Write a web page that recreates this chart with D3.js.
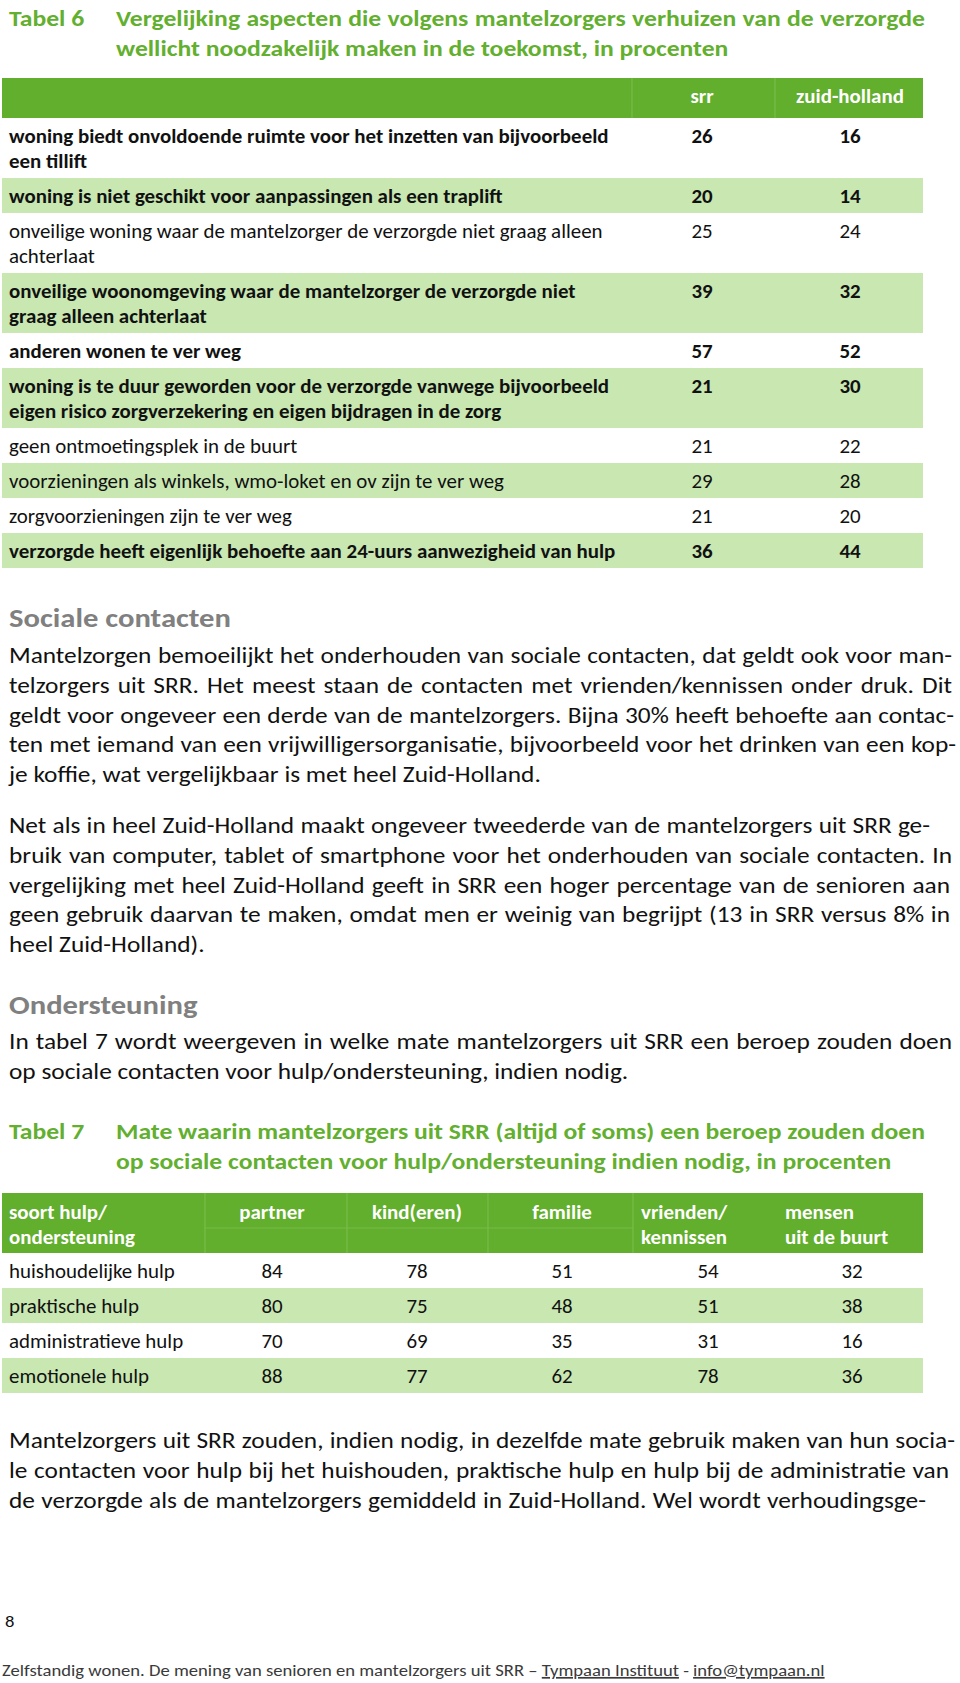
<!DOCTYPE html>
<html><head><meta charset="utf-8">
<script src="https://cdn.jsdelivr.net/npm/d3@7"></script>
<style>body{margin:0;background:#fff}svg{display:block}</style>
</head><body>
<script>
// ---------------- DATA ----------------
const table6Label = "Tabel 6";
const table6Title = ["Vergelijking aspecten die volgens mantelzorgers verhuizen van de verzorgde",
                     "wellicht noodzakelijk maken in de toekomst, in procenten"];
const table6Columns = ["srr", "zuid-holland"];
const aspects = [
  ["woning biedt onvoldoende ruimte voor het inzetten van bijvoorbeeld", "een tillift"],
  ["woning is niet geschikt voor aanpassingen als een traplift"],
  ["onveilige woning waar de mantelzorger de verzorgde niet graag alleen", "achterlaat"],
  ["onveilige woonomgeving waar de mantelzorger de verzorgde niet", "graag alleen achterlaat"],
  ["anderen wonen te ver weg"],
  ["woning is te duur geworden voor de verzorgde vanwege bijvoorbeeld", "eigen risico zorgverzekering en eigen bijdragen in de zorg"],
  ["geen ontmoetingsplek in de buurt"],
  ["voorzieningen als winkels, wmo-loket en ov zijn te ver weg"],
  ["zorgvoorzieningen zijn te ver weg"],
  ["verzorgde heeft eigenlijk behoefte aan 24-uurs aanwezigheid van hulp"]
];
const srrValues         = [26, 20, 25, 39, 57, 21, 21, 29, 21, 36];
const zuidHollandValues = [16, 14, 24, 32, 52, 30, 22, 28, 20, 44];
const aspectSignificant = [true, true, false, true, true, true, false, false, false, true];

const heading1 = "Sociale contacten";
const para1 = [
  "Mantelzorgen bemoeilijkt het onderhouden van sociale contacten, dat geldt ook voor man-",
  "telzorgers uit SRR. Het meest staan de contacten met vrienden/kennissen onder druk. Dit",
  "geldt voor ongeveer een derde van de mantelzorgers. Bijna 30% heeft behoefte aan contac-",
  "ten met iemand van een vrijwilligersorganisatie, bijvoorbeeld voor het drinken van een kop-",
  "je koffie, wat vergelijkbaar is met heel Zuid-Holland."
];
const para2 = [
  "Net als in heel Zuid-Holland maakt ongeveer tweederde van de mantelzorgers uit SRR ge-",
  "bruik van computer, tablet of smartphone voor het onderhouden van sociale contacten. In",
  "vergelijking met heel Zuid-Holland geeft in SRR een hoger percentage van de senioren aan",
  "geen gebruik daarvan te maken, omdat men er weinig van begrijpt (13 in SRR versus 8% in",
  "heel Zuid-Holland)."
];
const heading2 = "Ondersteuning";
const para3 = [
  "In tabel 7 wordt weergeven in welke mate mantelzorgers uit SRR een beroep zouden doen",
  "op sociale contacten voor hulp/ondersteuning, indien nodig."
];

const table7Label = "Tabel 7";
const table7Title = ["Mate waarin mantelzorgers uit SRR (altijd of soms) een beroep zouden doen",
                     "op sociale contacten voor hulp/ondersteuning indien nodig, in procenten"];
const helpHeader = ["soort hulp/", "ondersteuning"];
const sources = ["partner", "kind(eren)", "familie", "vrienden/kennissen", "mensen uit de buurt"];
const sourceLabels = [["partner"], ["kind(eren)"], ["familie"], ["vrienden/", "kennissen"], ["mensen", "uit de buurt"]];
const helpTypes = ["huishoudelijke hulp", "praktische hulp", "administratieve hulp", "emotionele hulp"];
const partnerValues  = [84, 80, 70, 88];
const kinderenValues = [78, 75, 69, 77];
const familieValues  = [51, 48, 35, 62];
const vriendenValues = [54, 51, 31, 78];
const buurtValues    = [32, 38, 16, 36];

const para4 = [
  "Mantelzorgers uit SRR zouden, indien nodig, in dezelfde mate gebruik maken van hun socia-",
  "le contacten voor hulp bij het huishouden, praktische hulp en hulp bij de administratie van",
  "de verzorgde als de mantelzorgers gemiddeld in Zuid-Holland. Wel wordt verhoudingsge-"
];
const pageNumber = "8";
const footerParts = [
  {t: "Zelfstandig wonen. De mening van senioren en mantelzorgers uit SRR \u2013 ", u: false},
  {t: "Tympaan Instituut", u: true},
  {t: " - ", u: false},
  {t: "info@tympaan.nl", u: true}
];

// ---------------- STYLE ----------------
const FONT = "Carlito, Lato, 'Open Sans', sans-serif";
const GREEN = "#62ae2d", TITLE_GREEN = "#63af30", LIGHT = "#c8e7b1", DIV = "#78bc49";
const styles = {
  title:     {size: 21.5, weight: 700, fill: TITLE_GREEN, calib: [table6Title[0], 805]},
  tableBold: {size: 19.5, weight: 700, fill: "#111", calib: [aspects[0][0], 600]},
  tableReg:  {size: 19.5, weight: 400, fill: "#111", calib: [aspects[2][0], 594]},
  body:      {size: 22.5, weight: 400, fill: "#111", calib: [para1[4], 532]},
  heading:   {size: 26,   weight: 700, fill: "#808080", calib: [heading1, 222]},
  footer:    {size: 17,   weight: 400, fill: "#3a3a3a", calib: [footerParts.map(d => d.t).join(""), 823]}
};

const svg = d3.select("body").append("svg").attr("width", 960).attr("height", 1683);

function measure(str, st) {
  const t = svg.append("text").attr("font-family", FONT).attr("font-size", st.size)
    .attr("font-weight", st.weight).style("white-space", "pre").text(str);
  const w = t.node().getComputedTextLength();
  t.remove();
  return w;
}
Object.values(styles).forEach(st => { st.f = st.calib[1] / measure(st.calib[0], st); });

function put(parent, str, x, y, st, opt = {}) {
  const g = parent.append("g").attr("transform", `translate(${x},${y}) scale(${st.f},1)`);
  const t = g.append("text").attr("font-family", FONT).attr("font-size", st.size)
    .attr("font-weight", st.weight).attr("fill", opt.fill || st.fill)
    .attr("text-anchor", opt.anchor || "start");
  if (opt.right) {
    const words = str.split(" ");
    const ws = words.map(w => measure(w, st));
    const total = (opt.right - x) / st.f;
    const gap = (total - d3.sum(ws)) / Math.max(1, words.length - 1);
    let cx = 0;
    words.forEach((w, i) => { t.append("tspan").attr("x", cx).attr("y", 0).text(w); cx += ws[i] + gap; });
  } else {
    t.text(str);
  }
  return t;
}

const LEFT = 9, TITLE_X = 116, TABLE_L = 2, TABLE_R = 923;

// ---------------- TABLE 6 ----------------
const t6 = svg.append("g");
put(t6, table6Label, LEFT, 26, styles.title);
put(t6, table6Title[0], TITLE_X, 26, styles.title, {right: 925});
put(t6, table6Title[1], TITLE_X, 56, styles.title);

const head6Top = 78, head6Bot = 118;
t6.append("rect").attr("x", TABLE_L).attr("y", head6Top).attr("width", TABLE_R - TABLE_L)
  .attr("height", head6Bot - head6Top).attr("fill", GREEN);
[632, 775].forEach(x => t6.append("line").attr("x1", x).attr("x2", x).attr("y1", head6Top)
  .attr("y2", head6Bot).attr("stroke", DIV).attr("stroke-width", 1.2));

const col6 = d3.scaleOrdinal().domain(table6Columns).range([702, 850]);
table6Columns.forEach(c => put(t6, c, col6(c), 103, styles.tableBold, {anchor: "middle", fill: "#fff"}));

const rowH6 = aspects.map(a => a.length === 2 ? 60 : 35);
const rowTop6 = d3.cumsum([head6Bot, ...rowH6]);
const rows6 = aspects.map((a, i) => ({
  lines: a, srr: srrValues[i], zh: zuidHollandValues[i], bold: aspectSignificant[i],
  top: rowTop6[i], h: rowH6[i], i
}));
rows6.forEach(r => {
  if (r.i % 2 === 1) t6.append("rect").attr("x", TABLE_L).attr("y", r.top)
    .attr("width", TABLE_R - TABLE_L).attr("height", r.h).attr("fill", LIGHT);
  const st = r.bold ? styles.tableBold : styles.tableReg;
  r.lines.forEach((ln, k) => put(t6, ln, LEFT, r.top + 25 + k * 24.5, st));
  put(t6, String(r.srr), col6("srr"), r.top + 25, st, {anchor: "middle"});
  put(t6, String(r.zh), col6("zuid-holland"), r.top + 25, st, {anchor: "middle"});
});

// ---------------- TEXT ----------------
const txt = svg.append("g");
const LEAD = 29.8;
function paragraph(lines, y0, rights) {
  lines.forEach((ln, i) => put(txt, ln, LEFT, y0 + i * LEAD, styles.body, rights[i] ? {right: rights[i]} : {}));
}
put(txt, heading1, LEFT, 627, styles.heading);
paragraph(para1, 663, [952, 952, 954, 956, null]);
paragraph(para2, 833, [930, 952, 950, 950, null]);
put(txt, heading2, LEFT, 1014, styles.heading);
paragraph(para3, 1049, [952, null]);

// ---------------- TABLE 7 ----------------
const t7 = svg.append("g");
put(t7, table7Label, LEFT, 1139, styles.title);
put(t7, table7Title[0], TITLE_X, 1139, styles.title, {right: 925});
put(t7, table7Title[1], TITLE_X, 1169, styles.title);

const head7Top = 1193, head7Bot = 1253;
t7.append("rect").attr("x", TABLE_L).attr("y", head7Top).attr("width", TABLE_R - TABLE_L)
  .attr("height", head7Bot - head7Top).attr("fill", GREEN);
[205, 347, 488, 633].forEach(x => t7.append("line").attr("x1", x).attr("x2", x)
  .attr("y1", head7Top).attr("y2", head7Bot).attr("stroke", DIV).attr("stroke-width", 1.2));
t7.append("line").attr("x1", 205).attr("x2", 633).attr("y1", 1228).attr("y2", 1228)
  .attr("stroke", DIV).attr("stroke-width", 1.2);

helpHeader.forEach((h, k) => put(t7, h, LEFT, 1219 + k * 25, styles.tableBold, {fill: "#fff"}));
const col7 = d3.scaleOrdinal().domain(sources).range([272, 417, 562, 708, 852]);
sources.forEach((s, j) => {
  const lbl = sourceLabels[j];
  lbl.forEach((ln, k) => {
    if (lbl.length === 2) put(t7, ln, col7(s) - 67, 1219 + k * 25, styles.tableBold, {fill: "#fff"});
    else put(t7, ln, col7(s), 1219, styles.tableBold, {fill: "#fff", anchor: "middle"});
  });
});

const row7 = d3.scaleBand().domain(helpTypes).range([head7Bot, 1393]);
const valueCols = [partnerValues, kinderenValues, familieValues, vriendenValues, buurtValues];
helpTypes.forEach((h, i) => {
  if (i % 2 === 1) t7.append("rect").attr("x", TABLE_L).attr("y", row7(h))
    .attr("width", TABLE_R - TABLE_L).attr("height", row7.bandwidth()).attr("fill", LIGHT);
  put(t7, h, LEFT, row7(h) + 25, styles.tableReg);
  sources.forEach((s, j) => put(t7, String(valueCols[j][i]), col7(s), row7(h) + 25, styles.tableReg, {anchor: "middle"}));
});

// ---------------- BOTTOM ----------------
paragraph(para4, 1448, [955, 949, 926]);
put(txt, pageNumber, 5, 1627, styles.footer, {fill: "#111"});
const fg = svg.append("g").attr("transform", `translate(2,1676) scale(${styles.footer.f},1)`);
const ft = fg.append("text").attr("font-family", FONT).attr("font-size", styles.footer.size)
  .attr("fill", styles.footer.fill).style("white-space", "pre");
footerParts.forEach(p => ft.append("tspan").text(p.t).attr("text-decoration", p.u ? "underline" : null));
</script>
</body></html>
